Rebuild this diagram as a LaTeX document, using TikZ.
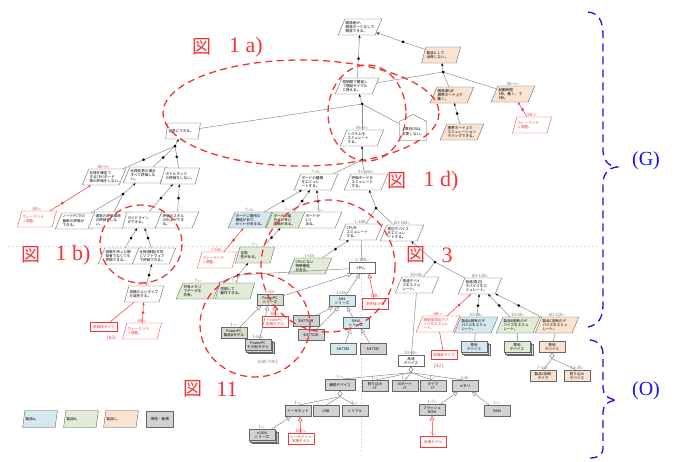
\documentclass[tikz,border=0pt]{standalone}
\usepackage{fontspec}
\setmainfont{Liberation Serif}
\newfontfamily\jp{Noto Sans CJK JP}
\newfontfamily\dvf{DejaVu Sans}
\usetikzlibrary{shapes.geometric,shapes.symbols,arrows.meta,shadows}
\definecolor{cA}{HTML}{D5E8F0}
\definecolor{cB}{HTML}{E2EBD5}
\definecolor{cC}{HTML}{FBE3D2}
\definecolor{cG}{HTML}{D2D2D2}
\definecolor{cS}{HTML}{D8DCCB}
\definecolor{lnc}{HTML}{8C8C8C}
\definecolor{rd}{HTML}{F03535}
\definecolor{bl}{HTML}{1515E0}
\newcommand{\retmark}{{\dvf\fontsize{3}{3}\selectfont ↵}}
\newcommand{\ndfont}{\jp\fontsize{3.6}{4.3}\selectfont}
\tikzset{
  gp/.style={trapezium, trapezium left angle=63, trapezium right angle=117, trapezium stretches body,
    draw=black!65, line width=0.35pt, fill=white, inner sep=0.6pt, align=left, font=\ndfont,
    minimum height=16pt, text width=29pt},
  rgp/.style={gp, draw=rd, text=rd},
  ob/.style={rectangle, draw=black!60, line width=0.5pt, fill=cG, inner sep=0.8pt, align=center,
    font=\ndfont, minimum width=26pt, minimum height=11pt},
  rob/.style={ob, draw=rd, fill=white, text=rd},
  stk/.style={double copy shadow={shadow xshift=1.5pt, shadow yshift=-1.5pt}},
  lbl/.style={font=\fontsize{4.8}{5}\selectfont, text=black!55, inner sep=0.3pt},
  rlbl/.style={lbl, text=rd},
  dot/.style={circle, fill=black, inner sep=0pt, minimum size=3pt},
  rdot/.style={circle, fill=rd, inner sep=0pt, minimum size=3pt},
  ln/.style={draw=lnc, line width=0.5pt},
  rl/.style={draw=rd, line width=0.5pt},
  me/.style={ln, -{Stealth[length=3pt,width=2.4pt,color=black]}},
  rme/.style={rl, -{Stealth[length=3pt,width=2.4pt,color=rd]}},
  gen/.style={ln, -{Triangle[open,length=4.5pt,width=4.5pt]}},
  rgen/.style={rl, -{Triangle[open,length=4.5pt,width=4.5pt]}},
  dmd/.style={diamond, draw=black!60, fill=white, line width=0.4pt, inner sep=0pt, minimum width=4.5pt, minimum height=5.5pt, anchor=north},
  rde/.style={draw=rd, line width=1.3pt, dash pattern=on 7pt off 4.5pt},
  bbr/.style={draw=bl, line width=1.3pt, dash pattern=on 8pt off 5pt},
  guide/.style={draw=black!15, line width=0.4pt, dash pattern=on 2pt off 2pt},
  fig/.style={text=rd, font=\fontsize{22}{22}\selectfont, inner sep=0pt},
  figj/.style={text=rd, font=\jp\fontsize{19}{19}\selectfont, inner sep=0pt},
  rtxt/.style={text=rd, font=\fontsize{4.8}{5}\selectfont, inner sep=0pt},
  gtxt/.style={text=black!55, font=\fontsize{4.8}{5}\selectfont, inner sep=0pt},
  brl/.style={text=bl, font=\fontsize{20}{20}\selectfont, inner sep=0pt}
}
\begin{document}
\begin{tikzpicture}[x=1pt,y=-1pt]
\useasboundingbox (0,0) rectangle (675,461);
\draw[guide] (8,246) -- (600,246);
\draw[guide] (361,250) -- (361,455);

% ---------- goal nodes: top
\node[gp] (g1) at (360,27) {開発者が、\\開発ボードなしで\\開発できる。};
\node[gp,fill=cC] (g2) at (441,55) {製品として\\出荷しない。};
\node[gp] (g3) at (357,86) {短期間で開発し\\て開発サイクル\\に使える。};
\node[gp] (g4) at (183,131) {容易にできる。};
\node[gp,fill=cC] (g5) at (452,95) {開発(新)が\\標準ボード上で\\動く。};
\node[gp,fill=cC,label={[lbl]above:60-∞\retmark}] (g6) at (513,94) {起動時間\\1秒、動く、で\\3秒。};
\node[rgp,label={[rlbl]above:60-\retmark}] (g7) at (532,125) {ウィークリテ\\ィ調整。};
\node[gp,fill=cC] (g8) at (462,132) {標準ボード上で\\エミュレーション\\デバッグできる。};
\node[signal, signal to=north, signal pointer angle=125, draw=black!65, line width=0.35pt, fill=white,
  font=\ndfont, align=center, minimum width=27pt, minimum height=25pt, inner sep=0.6pt] (p1) at (413,131) {\\既存OSは\\変更しない。};
\node[gp,label={[lbl]above:SS-∞\retmark}] (g9) at (362,138) {システムを\\エミュレート\\する。};

% ---------- left tree
\node[gp,label={[rlbl]above:60-∞\retmark}] (g10) at (104,177) {仕様を確定で\\きるCPUボード\\等の評価をしない。};
\node[gp] (g11) at (145,175) {仕様変更の場合\\すべて評価しな\\い。};
\node[gp] (g12) at (180,176) {ボトルネック\\の評価をしない。};
\node[rgp,label={[rlbl]above:60-\retmark}] (g13) at (37,219) {ウィークリテ\\ィ調整。};
\node[gp] (g14) at (77,221) {ノートPCでの\\最新の評価が\\できる。};
\node[gp] (g15) at (110,220) {通常の評価環境\\の評価をしな\\い。};
\node[gp] (g16) at (142,220) {ガイドライン\\ができる。};
\node[gp] (g17) at (177,220) {評価のスキル\\の向上ができ\\る。};
\node[gp] (g18) at (120,256) {経験を持った開\\発者でなくても\\評価できる。};
\node[gp] (g19) at (154,256) {仕様(機能)を同\\じソフトウェア\\で評価できる。};
\node[gp,label={[rlbl]above:60-∞\retmark}] (g20) at (144,294) {成績のよいタイプ\\を選択する。};
\node[rgp,label={[rlbl]above:60-\retmark}] (g21) at (142,331) {ウィークリテ\\ィ調整。};
\node[rob,minimum width=27pt,minimum height=9pt] (r1) at (104,327) {高精度タイマ};
\node[rtxt] (t1) at (112,338) {[B2].};

% ---------- middle
\node[gp,label={[lbl]above:7-∞\retmark}] (g22) at (316,182) {ボードの種類\\をエミュレ\\ートする。};
\node[gp,label={[lbl]above:91-360\retmark}] (g23) at (366,182) {評価ボードを\\エミュレート\\する。};
\node[gp,fill=cA,label={[lbl]above:7-∞\retmark}] (g24) at (250,220) {ボードに個別の\\機能があり、\\セットが決まる。};
\node[gp,fill=cB,label={[lbl]above:7-\retmark}] (g25) at (288,220) {ボードの組\\合せが多い\\評価がある。};
\node[gp,label={[lbl]above:7-\retmark}] (g26) at (320,220) {ボードが\\1つ\\ある。};
\node[rgp,label={[rlbl]above:7-60\retmark}] (g27) at (217,260) {ウィークリテ\\ィ調整。};
\node[gp,fill=cB,label={[lbl]above:7-\retmark}] (g28) at (255,255) {互換\\性がある。};
\node[gp,fill=cB,label={[lbl]above:7-\retmark}] (g29) at (198,291) {共有メモリ\\でデータを\\共有。};
\node[gp,fill=cB,label={[lbl]above:7-\retmark}] (g30) at (235,291) {同期して\\動作できる。};
\node[gp,label={[lbl]above:1-180\retmark}] (g31) at (361,232) {CPUを\\エミュレート\\する。};
\node[gp,label={[lbl]above:60-180\retmark}] (g32) at (402,233) {周辺デバイス\\をエミュレ\\ートする。};
\node[gp,fill=cB,label={[lbl]above:1-60\retmark}] (g33) at (310,266) {CPUにない\\特殊機能\\がある。};
\node[gp,label={[lbl]above:30-60\retmark}] (g34) at (417,285) {高速デバイ\\スをエミュ\\レート。};
\node[gp,label={[lbl]above:60-120\retmark}] (g35) at (480,286) {低速(周辺)\\デバイスをエ\\ミュレート。};
\node[rgp,label={[rlbl]above:60-\retmark}] (g36) at (438,324) {高精度周辺デバ\\イスをエミュレ\\ート。};
\node[gp,fill=cA,label={[lbl]above:30-60\retmark}] (g37) at (476,325) {製品A固有のデ\\バイスをエミュ\\レート。};
\node[gp,fill=cB,label={[lbl]above:30-60\retmark}] (g38) at (518,325) {製品B固有のデ\\バイスをエミュ\\レート。};
\node[gp,fill=cC,label={[lbl]above:60-120\retmark}] (g39) at (557,325) {製品C固有のデ\\バイスをエミュ\\レート。};

% ---------- objects
\node[ob,fill=white,label={[lbl]above:1-180\retmark}] (ocpu) at (362,268) {CPU。};
\node[ob,fill=cS,label={[lbl]above:1-60\retmark}] (oser) at (270,300) {PowerPC\\シリーズ};
\node[ob,fill=cA,label={[lbl]above:1-60\retmark}] (osh4) at (342,301) {SH4\\シリーズ};
\node[rob,label={[rlbl]above:180\retmark}] (ohp) at (375,304) {高性能CPU};
\node[ob,fill=cS,label={[lbl]above:1-\retmark}] (oppcb) at (234,333) {PowerPC\\製品Bモデル};
\node[rob,label={[rlbl]above:60-\retmark}] (oppcr) at (275,322) {PowerPC\\実機モデル};
\node[ob,stk,label={[lbl]above:1-60\retmark}] (oppcs) at (258,345) {PowerPC\\その他モデル};
\node[gtxt] (t2) at (268,362) {[600-700].};
\node[ob] (o7750) at (306,321) {SH7750R};
\node[ob] (o7751) at (311,335) {SH7751R};
\node[ob,fill=cA] (osh4a) at (356,323) {SH4A\\シリーズ};
\node[ob,fill=cA] (o7780) at (343,349) {SH7780};
\node[ob] (o7785) at (373,349) {SH7785};
\node[ob,fill=white,label={[lbl]above:30-60\retmark}] (ohs) at (411,361) {高速\\デバイス};
\node[rob,minimum height=9pt] (ohsr) at (444,355) {高精度タイマ};
\node[rtxt] (t3) at (439,366) {[A2].};
\node[ob,stk,fill=cA] (oda) at (474,347) {専用\\デバイス};
\node[ob,stk,fill=cB] (odb) at (517,347) {専用\\デバイス};
\node[ob,fill=cC] (odc) at (552,347) {専用\\デバイス};
\node[ob,fill=cC,label={[lbl]above:7-14\retmark}] (ot7) at (543,376) {製品C固有\\タイマ};
\node[ob,fill=cC,label={[lbl]above:14-30\retmark}] (ot14) at (577,376) {割り込み\\デバイス};
\node[ob,minimum width=30pt,label={[lbl]above:1-\retmark}] (oaux) at (340,385) {補助デバイス};
\node[ob,label={[lbl]above:1-\retmark}] (oirq) at (375,386) {割り込み\\IF};
\node[ob,label={[lbl]above:1-\retmark}] (oio) at (405,386) {IOポート\\IF};
\node[ob,label={[lbl]above:1-\retmark}] (otim) at (433,386) {タイマ\\IF};
\node[ob,label={[lbl]above:2-8\retmark}] (omem) at (465,386) {メモリ};
\node[ob,label={[lbl]above:1-\retmark}] (oeth) at (298,411) {イーサネット};
\node[ob] (ousb) at (326,411) {USB};
\node[ob,label={[lbl]above:1-\retmark}] (oser2) at (355,411) {シリアル};
\node[ob,stk,label={[lbl]above:1-\retmark}] (oe1000) at (262,435) {e1000\\シリーズ};
\node[rob,label={[rlbl]above:100-\retmark}] (oethr) at (301,439) {イーサネット\\実機モデル};
\node[ob,label={[lbl]above:1-7\retmark}] (orom) at (432,410) {フラッシュ\\ROM};
\node[ob,label={[lbl]above:1-\retmark}] (oram) at (497,411) {RAM};
\node[rob,label={[rlbl]above:7-\retmark}] (oromr) at (433,442) {実機モデル};

% ---------- legend
\node[gp,fill=cA,minimum height=17pt] (l1) at (40,419) {製品A。};
\node[gp,fill=cB,minimum height=17pt] (l2) at (81,419) {製品B。};
\node[gp,fill=cC,minimum height=17pt] (l3) at (121,419) {製品C。};
\node[ob,minimum width=27pt,minimum height=16pt] (l4) at (160,419) {既存・新規};

% ---------- connectors: top
\draw[me] (g3) -- node[dot,pos=.45]{} (g1);
\draw[me] (g2) -- node[dot,pos=.45]{} (g1);
\coordinate (j2) at (443,72);
\draw[me] (j2) -- (g2);
\draw[ln] (j2) -- (g3);
\draw[ln] (j2) -- (g5);
\draw[ln] (j2) -- (g6);
\node[dot] at (j2) {};
\coordinate (j1) at (362,104);
\draw[me] (j1) -- (g3);
\draw[ln] (j1) -- (g4);
\draw[ln] (j1) -- (p1);
\draw[ln] (j1) -- (g9);
\node[dot] at (j1) {};
\draw[me] (g8) -- node[dot]{} (g5);
\draw[rme] (g7) -- node[rdot]{} (g6);

% left tree
\coordinate (j3) at (175,146);
\draw[me] (j3) -- (g4);
\draw[ln] (j3) -- node[dot,pos=.6]{} (g10);
\draw[ln] (j3) -- node[dot,pos=.55]{} (g11);
\draw[ln] (j3) -- node[dot,pos=.5]{} (g12);
\node[dot] at (j3) {};
\draw[rme] (g13) -- node[rdot,pos=.3]{} (g10);
\coordinate (j4) at (123,194);
\draw[me] (j4) -- (g11);
\draw[ln] (j4) -- (g14);
\draw[ln] (j4) -- (g15);
\node[dot] at (j4) {};
\draw[me] (g16) -- node[dot]{} (g12);
\draw[me] (g17) -- node[dot]{} (g12);
\draw[me] (g18) -- node[dot]{} (g16);
\draw[me] (g19) -- node[dot]{} (g16);
\draw[me] (g20) -- node[dot]{} (g19);
\draw[rme] (g21) -- node[rdot]{} (g20);
\draw[rl] (r1) -- (g20);

% middle
\coordinate (j5) at (362,160);
\draw[me] (j5) -- (g9);
\draw[ln] (j5) -- (g22);
\draw[ln] (j5) -- (g23);
\node[dot] at (j5) {};
\draw[me] (g24) -- node[dot]{} (g22);
\draw[me] (g25) -- node[dot]{} (g22);
\draw[me] (g26) -- node[dot]{} (g22);
\draw[rme] (g27) -- node[rdot]{} (g24);
\draw[me] (g28) -- node[dot]{} (g25);
\coordinate (j6) at (238,275);
\draw[me] (j6) -- (g28);
\draw[ln] (j6) -- (g29);
\draw[ln] (j6) -- (g30);
\draw[ln] (j6) -- (ocpu);
\node[dot] at (j6) {};
\coordinate (j7) at (376,208);
\draw[me] (j7) -- (g23);
\draw[ln] (j7) -- (g31);
\draw[ln] (j7) -- (g32);
\node[dot] at (j7) {};
\draw[ln] (ocpu) -- (g31);
\draw[me] (g33) -- node[dot]{} (g31);
\coordinate (j8) at (435,262);
\draw[me] (j8) -- (g32);
\draw[ln] (j8) -- (g34);
\draw[ln] (j8) -- (g35);
\node[dot] at (j8) {};
\draw[rme] (g36) -- node[rdot]{} (g35);
\draw[me] (g37) -- node[dot]{} (g35);
\draw[me] (g38) -- node[dot]{} (g35);
\draw[me] (g39) -- node[dot]{} (g35);
\draw[ln] (g37) -- (oda);
\draw[ln] (g38) -- (odb);
\draw[ln] (g39) -- (odc);
\draw[rl] (g36) -- (ohsr);
\draw[ln] (g34) -- (ohs);

% generalisations
\draw[gen] (oser) -- ([xshift=-10pt]ocpu.south);
\draw[gen] (osh4) -- ([xshift=-2pt]ocpu.south);
\draw[rgen] (ohp) -- ([xshift=7pt]ocpu.south);
\draw[gen] (oppcb) -- ([xshift=-9pt]oser.south);
\draw[gen] (oppcs) -- ([xshift=-2pt]oser.south);
\draw[rgen] (oppcr) -- ([xshift=5pt]oser.south);
\draw[gen] (o7750) -- ([xshift=-9pt]osh4.south);
\draw[gen] (o7751) -- ([xshift=-3pt]osh4.south);
\draw[gen] (osh4a) -- ([xshift=5pt]osh4.south);
\draw[gen] (o7780) -- ([xshift=-5pt]osh4a.south);
\draw[gen] (o7785) -- ([xshift=5pt]osh4a.south);
\draw[gen] (oe1000) -- ([xshift=-7pt]oeth.south);
\draw[rgen] (oethr) -- ([xshift=2pt]oeth.south);
\draw[gen] (orom) -- ([xshift=-7pt]omem.south);
\draw[gen] (oram) -- ([xshift=7pt]omem.south);
\draw[rgen] (oromr) -- (orom.south);

% aggregations
\node[dmd] (dc) at (odc.south) {};
\draw[ln] (dc.south) -- (ot7.north);
\draw[ln] (dc.south) -- (ot14.north);
\node[dmd] (dh) at (ohs.south) {};
\draw[ln] (dh.south) -- (oaux.north);
\draw[ln] (dh.south) -- (oirq.north);
\draw[ln] (dh.south) -- (oio.north);
\draw[ln] (dh.south) -- (otim.north);
\draw[ln] (dh.south) -- (omem.north);
\node[dmd] (dx) at (oaux.south) {};
\draw[ln] (dx.south) -- (oeth.north);
\draw[ln] (dx.south) -- (ousb.north);
\draw[ln] (dx.south) -- (oser2.north);

% ---------- red dashed ellipses and figure labels
\draw[rde] (301,113) ellipse [x radius=138, y radius=53];
\draw[rde] (367,113) ellipse [x radius=39, y radius=48];
\draw[rde] (328,266) ellipse [x radius=67, y radius=66];
\draw[rde] (255,325) ellipse [x radius=55, y radius=52];
\draw[rde] (141,244) ellipse [x radius=41, y radius=39];
\node[figj] (f1) at (202,47) {図};  \node[fig] (f1n) at (246,47) {1 a)};
\node[figj] (f2) at (397,181) {図}; \node[fig] (f2n) at (441,181) {1 d)};
\node[figj] (f3) at (31,255) {図};  \node[fig] (f3n) at (73,255) {1 b)};
\node[figj] (f4) at (416,255) {図}; \node[fig] (f4n) at (447,255) {3};
\node[figj] (f5) at (193,389) {図}; \node[fig] (f5n) at (227,389) {11};

% ---------- blue braces
\draw[bbr] (588,12) .. controls (598,13) and (603,20) .. (603,35) -- (603,150)
  .. controls (603,160) and (608,166) .. (617,167) .. controls (608,168) and (603,174) .. (603,184)
  -- (603,305) .. controls (603,318) and (598,325) .. (588,327);
\draw[bbr] (590,340) .. controls (598,341) and (603,345) .. (603,355) -- (603,388)
  .. controls (603,395) and (608,399) .. (617,400) .. controls (608,401) and (603,405) .. (603,412)
  -- (603,448) .. controls (603,455) and (598,458) .. (590,458);
\node[brl] (bg) at (646,161) {(G)};
\node[brl] (bo) at (646,391) {(O)};
\end{tikzpicture}
\end{document}
